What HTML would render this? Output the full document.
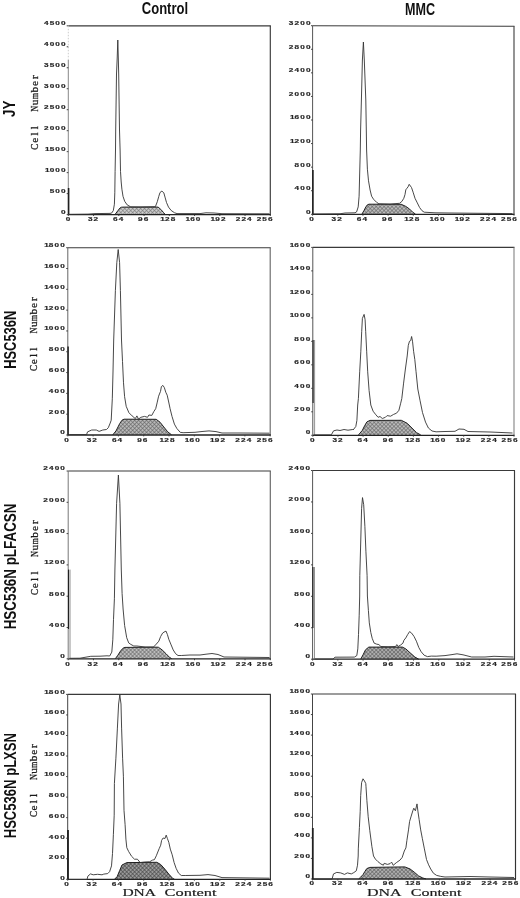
<!DOCTYPE html><html><head><meta charset="utf-8"><title>Cell cycle histograms</title>
<style>html,body{margin:0;padding:0;background:#fff;}svg{display:block;will-change:transform;}.n{font-family:"Liberation Sans",sans-serif;font-weight:bold;font-size:5.65px;fill:#262626;stroke:#262626;stroke-width:0.18px;}.t{font-family:"Liberation Sans",sans-serif;font-weight:bold;fill:#111;}.s{font-family:"Liberation Serif",serif;fill:#1a1a1a;stroke:#1a1a1a;stroke-width:0.15px;}.cs{font-family:"Liberation Serif",serif;fill:#1a1a1a;stroke:#1a1a1a;stroke-width:0.3px;}.m{font-family:"Liberation Mono",monospace;fill:#1a1a1a;stroke:#1a1a1a;stroke-width:0.25px;}</style></head><body>
<svg width="520" height="898" viewBox="0 0 520 898">
<defs><pattern id="hA" patternUnits="userSpaceOnUse" width="2.8" height="2.8" patternTransform="rotate(45)"><rect width="2.8" height="2.8" fill="#cecece"/><path d="M0,0.35 H2.8 M0.35,0 V2.8" stroke="#797979" stroke-width="0.7"/></pattern><pattern id="hB" patternUnits="userSpaceOnUse" width="2.8" height="2.8" patternTransform="rotate(45)"><rect width="2.8" height="2.8" fill="#bababa"/><path d="M0,0.35 H2.8 M0.35,0 V2.8" stroke="#656565" stroke-width="0.7"/></pattern><pattern id="hC" patternUnits="userSpaceOnUse" width="2.8" height="2.8" patternTransform="rotate(45)"><rect width="2.8" height="2.8" fill="#bababa"/><path d="M0,0.35 H2.8 M0.35,0 V2.8" stroke="#656565" stroke-width="0.7"/></pattern><pattern id="hD" patternUnits="userSpaceOnUse" width="2.8" height="2.8" patternTransform="rotate(45)"><rect width="2.8" height="2.8" fill="#bababa"/><path d="M0,0.35 H2.8 M0.35,0 V2.8" stroke="#656565" stroke-width="0.7"/></pattern><pattern id="hE" patternUnits="userSpaceOnUse" width="2.8" height="2.8" patternTransform="rotate(45)"><rect width="2.8" height="2.8" fill="#bcbcbc"/><path d="M0,0.35 H2.8 M0.35,0 V2.8" stroke="#676767" stroke-width="0.7"/></pattern><pattern id="hF" patternUnits="userSpaceOnUse" width="2.8" height="2.8" patternTransform="rotate(45)"><rect width="2.8" height="2.8" fill="#b2b2b2"/><path d="M0,0.35 H2.8 M0.35,0 V2.8" stroke="#5d5d5d" stroke-width="0.7"/></pattern><pattern id="hG" patternUnits="userSpaceOnUse" width="2.8" height="2.8" patternTransform="rotate(45)"><rect width="2.8" height="2.8" fill="#9a9a9a"/><path d="M0,0.35 H2.8 M0.35,0 V2.8" stroke="#454545" stroke-width="0.7"/></pattern><pattern id="hH" patternUnits="userSpaceOnUse" width="2.8" height="2.8" patternTransform="rotate(45)"><rect width="2.8" height="2.8" fill="#b2b2b2"/><path d="M0,0.35 H2.8 M0.35,0 V2.8" stroke="#5d5d5d" stroke-width="0.7"/></pattern></defs>
<text class="t" x="141.8" y="14.2" font-size="15.6" textLength="46.3" lengthAdjust="spacingAndGlyphs">Control</text>
<text class="t" x="405.0" y="14.8" font-size="16.3" textLength="30.0" lengthAdjust="spacingAndGlyphs">MMC</text>
<text class="t" transform="translate(14.90,117.00) rotate(-90)" x="0" y="0" font-size="16.5" textLength="16.30" lengthAdjust="spacingAndGlyphs">JY</text>
<text class="t" transform="translate(16.00,368.80) rotate(-90)" x="0" y="0" font-size="16.5" textLength="58.10" lengthAdjust="spacingAndGlyphs">HSC536N</text>
<text class="t" transform="translate(15.60,629.30) rotate(-90)" x="0" y="0" font-size="15.6" textLength="125.70" lengthAdjust="spacingAndGlyphs">HSC536N pLFACSN</text>
<text class="t" transform="translate(15.60,838.30) rotate(-90)" x="0" y="0" font-size="15.6" textLength="105.30" lengthAdjust="spacingAndGlyphs">HSC536N pLXSN</text>
<g class="cs" transform="translate(38.00,149.80) rotate(-90)" font-size="11.3"><text transform="translate(3.16,0) scale(0.796,1)" text-anchor="middle">C</text><text transform="translate(9.47,0) scale(1.000,1)" text-anchor="middle">e</text><text transform="translate(15.79,0) scale(1.000,1)" text-anchor="middle">l</text><text transform="translate(22.11,0) scale(1.000,1)" text-anchor="middle">l</text><text transform="translate(41.06,0) scale(0.735,1)" text-anchor="middle">N</text><text transform="translate(47.38,0) scale(1.000,1)" text-anchor="middle">u</text><text transform="translate(53.69,0) scale(0.682,1)" text-anchor="middle">m</text><text transform="translate(60.01,0) scale(1.000,1)" text-anchor="middle">b</text><text transform="translate(66.33,0) scale(1.000,1)" text-anchor="middle">e</text><text transform="translate(72.64,0) scale(1.000,1)" text-anchor="middle">r</text></g>
<g class="cs" transform="translate(37.00,371.20) rotate(-90)" font-size="11.3"><text transform="translate(3.13,0) scale(0.796,1)" text-anchor="middle">C</text><text transform="translate(9.40,0) scale(1.000,1)" text-anchor="middle">e</text><text transform="translate(15.67,0) scale(1.000,1)" text-anchor="middle">l</text><text transform="translate(21.93,0) scale(1.000,1)" text-anchor="middle">l</text><text transform="translate(40.73,0) scale(0.735,1)" text-anchor="middle">N</text><text transform="translate(47.00,0) scale(1.000,1)" text-anchor="middle">u</text><text transform="translate(53.27,0) scale(0.682,1)" text-anchor="middle">m</text><text transform="translate(59.53,0) scale(1.000,1)" text-anchor="middle">b</text><text transform="translate(65.80,0) scale(1.000,1)" text-anchor="middle">e</text><text transform="translate(72.07,0) scale(1.000,1)" text-anchor="middle">r</text></g>
<g class="cs" transform="translate(37.50,595.20) rotate(-90)" font-size="11.3"><text transform="translate(3.18,0) scale(0.796,1)" text-anchor="middle">C</text><text transform="translate(9.53,0) scale(1.000,1)" text-anchor="middle">e</text><text transform="translate(15.88,0) scale(1.000,1)" text-anchor="middle">l</text><text transform="translate(22.23,0) scale(1.000,1)" text-anchor="middle">l</text><text transform="translate(41.28,0) scale(0.735,1)" text-anchor="middle">N</text><text transform="translate(47.63,0) scale(1.000,1)" text-anchor="middle">u</text><text transform="translate(53.98,0) scale(0.682,1)" text-anchor="middle">m</text><text transform="translate(60.33,0) scale(1.000,1)" text-anchor="middle">b</text><text transform="translate(66.68,0) scale(1.000,1)" text-anchor="middle">e</text><text transform="translate(73.03,0) scale(1.000,1)" text-anchor="middle">r</text></g>
<g class="cs" transform="translate(37.00,817.20) rotate(-90)" font-size="11.3"><text transform="translate(3.09,0) scale(0.796,1)" text-anchor="middle">C</text><text transform="translate(9.28,0) scale(1.000,1)" text-anchor="middle">e</text><text transform="translate(15.46,0) scale(1.000,1)" text-anchor="middle">l</text><text transform="translate(21.64,0) scale(1.000,1)" text-anchor="middle">l</text><text transform="translate(40.19,0) scale(0.735,1)" text-anchor="middle">N</text><text transform="translate(46.38,0) scale(1.000,1)" text-anchor="middle">u</text><text transform="translate(52.56,0) scale(0.682,1)" text-anchor="middle">m</text><text transform="translate(58.74,0) scale(1.000,1)" text-anchor="middle">b</text><text transform="translate(64.92,0) scale(1.000,1)" text-anchor="middle">e</text><text transform="translate(71.11,0) scale(1.000,1)" text-anchor="middle">r</text></g>
<text class="s" x="122.40" y="895.6" font-size="9.5" textLength="33.60" lengthAdjust="spacingAndGlyphs">DNA</text>
<text class="s" x="164.60" y="895.6" font-size="9.5" textLength="51.90" lengthAdjust="spacingAndGlyphs">Content</text>
<text class="s" x="367.00" y="895.6" font-size="9.5" textLength="34.60" lengthAdjust="spacingAndGlyphs">DNA</text>
<text class="s" x="410.70" y="895.6" font-size="9.5" textLength="50.80" lengthAdjust="spacingAndGlyphs">Content</text>
<polygon points="115.20,214.30 118.00,210.50 120.00,208.00 121.50,207.20 124.00,207.10 158.10,207.10 160.80,209.40 163.50,212.50 165.00,214.30" fill="url(#hA)" stroke="none"/>
<polyline points="115.20,214.30 118.00,210.50 120.00,208.00 121.50,207.20 124.00,207.10 158.10,207.10 160.80,209.40 163.50,212.50 165.00,214.30" fill="none" stroke="#1e1e1e" stroke-width="1.0" stroke-linejoin="round"/>
<line x1="68.30" y1="25.80" x2="270.80" y2="25.80" stroke="#3a3a3a" stroke-width="1.15"/>
<line x1="270.30" y1="25.80" x2="270.30" y2="214.60" stroke="#3a3a3a" stroke-width="1.15"/>
<line x1="68.30" y1="214.60" x2="270.80" y2="214.60" stroke="#222" stroke-width="1.3"/>
<line x1="68.30" y1="25.80" x2="68.30" y2="60.00" stroke="#ccc" stroke-width="1" stroke-dasharray="1.5,1.5"/>
<line x1="68.30" y1="60.00" x2="68.30" y2="214.60" stroke="#888" stroke-width="1.0"/>
<line x1="68.60" y1="188.00" x2="68.60" y2="214.60" stroke="#202020" stroke-width="1.6"/>
<line x1="66.70" y1="214.60" x2="68.30" y2="214.60" stroke="#333" stroke-width="0.9"/>
<line x1="66.70" y1="193.62" x2="68.30" y2="193.62" stroke="#333" stroke-width="0.9"/>
<line x1="66.70" y1="172.64" x2="68.30" y2="172.64" stroke="#333" stroke-width="0.9"/>
<line x1="66.70" y1="151.67" x2="68.30" y2="151.67" stroke="#333" stroke-width="0.9"/>
<line x1="66.70" y1="130.69" x2="68.30" y2="130.69" stroke="#333" stroke-width="0.9"/>
<line x1="66.70" y1="109.71" x2="68.30" y2="109.71" stroke="#333" stroke-width="0.9"/>
<line x1="66.70" y1="88.73" x2="68.30" y2="88.73" stroke="#333" stroke-width="0.9"/>
<line x1="66.70" y1="67.76" x2="68.30" y2="67.76" stroke="#333" stroke-width="0.9"/>
<line x1="66.70" y1="46.78" x2="68.30" y2="46.78" stroke="#333" stroke-width="0.9"/>
<line x1="66.70" y1="25.80" x2="68.30" y2="25.80" stroke="#333" stroke-width="0.9"/>
<line x1="68.30" y1="214.60" x2="68.30" y2="216.00" stroke="#333" stroke-width="0.9"/>
<line x1="93.55" y1="214.60" x2="93.55" y2="216.00" stroke="#333" stroke-width="0.9"/>
<line x1="118.80" y1="214.60" x2="118.80" y2="216.00" stroke="#333" stroke-width="0.9"/>
<line x1="144.05" y1="214.60" x2="144.05" y2="216.00" stroke="#333" stroke-width="0.9"/>
<line x1="169.30" y1="214.60" x2="169.30" y2="216.00" stroke="#333" stroke-width="0.9"/>
<line x1="194.55" y1="214.60" x2="194.55" y2="216.00" stroke="#333" stroke-width="0.9"/>
<line x1="219.80" y1="214.60" x2="219.80" y2="216.00" stroke="#333" stroke-width="0.9"/>
<line x1="245.05" y1="214.60" x2="245.05" y2="216.00" stroke="#333" stroke-width="0.9"/>
<line x1="270.30" y1="214.60" x2="270.30" y2="216.00" stroke="#333" stroke-width="0.9"/>
<polyline points="69.00,214.30 88.00,214.10 95.00,213.60 110.00,213.40 111.60,213.10 113.30,210.60 114.40,204.20 114.80,192.80 115.10,171.40 115.50,150.00 115.70,130.00 116.50,74.00 117.20,58.00 117.80,40.00 118.30,58.00 118.70,74.00 119.50,130.00 120.10,150.00 120.50,171.40 121.20,182.00 121.90,189.20 123.00,196.30 124.70,201.30 127.20,204.90 130.80,206.90 140.00,207.00 155.40,206.70 157.30,201.70 158.80,196.30 160.00,192.50 161.90,191.10 163.80,192.80 165.00,197.10 166.50,202.50 168.50,207.10 171.20,210.50 174.60,212.80 177.00,213.60 200.00,213.60 206.00,212.80 214.00,213.00 222.00,213.70 269.50,213.80" fill="none" stroke="#333" stroke-width="0.9" stroke-linejoin="round"/>
<text transform="translate(46.20,24.75) scale(1.45,1)" text-anchor="middle" class="n">4</text><text transform="translate(51.90,24.75) scale(1.45,1)" text-anchor="middle" class="n">5</text><text transform="translate(57.60,24.75) scale(1.45,1)" text-anchor="middle" class="n">0</text><text transform="translate(63.30,24.75) scale(1.45,1)" text-anchor="middle" class="n">0</text>
<text transform="translate(46.20,45.81) scale(1.45,1)" text-anchor="middle" class="n">4</text><text transform="translate(51.90,45.81) scale(1.45,1)" text-anchor="middle" class="n">0</text><text transform="translate(57.60,45.81) scale(1.45,1)" text-anchor="middle" class="n">0</text><text transform="translate(63.30,45.81) scale(1.45,1)" text-anchor="middle" class="n">0</text>
<text transform="translate(46.20,66.87) scale(1.45,1)" text-anchor="middle" class="n">3</text><text transform="translate(51.90,66.87) scale(1.45,1)" text-anchor="middle" class="n">5</text><text transform="translate(57.60,66.87) scale(1.45,1)" text-anchor="middle" class="n">0</text><text transform="translate(63.30,66.87) scale(1.45,1)" text-anchor="middle" class="n">0</text>
<text transform="translate(46.20,87.93) scale(1.45,1)" text-anchor="middle" class="n">3</text><text transform="translate(51.90,87.93) scale(1.45,1)" text-anchor="middle" class="n">0</text><text transform="translate(57.60,87.93) scale(1.45,1)" text-anchor="middle" class="n">0</text><text transform="translate(63.30,87.93) scale(1.45,1)" text-anchor="middle" class="n">0</text>
<text transform="translate(46.20,108.99) scale(1.45,1)" text-anchor="middle" class="n">2</text><text transform="translate(51.90,108.99) scale(1.45,1)" text-anchor="middle" class="n">5</text><text transform="translate(57.60,108.99) scale(1.45,1)" text-anchor="middle" class="n">0</text><text transform="translate(63.30,108.99) scale(1.45,1)" text-anchor="middle" class="n">0</text>
<text transform="translate(46.20,130.05) scale(1.45,1)" text-anchor="middle" class="n">2</text><text transform="translate(51.90,130.05) scale(1.45,1)" text-anchor="middle" class="n">0</text><text transform="translate(57.60,130.05) scale(1.45,1)" text-anchor="middle" class="n">0</text><text transform="translate(63.30,130.05) scale(1.45,1)" text-anchor="middle" class="n">0</text>
<text transform="translate(47.25,151.11) scale(1.45,1)" text-anchor="middle" class="n">1</text><text transform="translate(51.90,151.11) scale(1.45,1)" text-anchor="middle" class="n">5</text><text transform="translate(57.60,151.11) scale(1.45,1)" text-anchor="middle" class="n">0</text><text transform="translate(63.30,151.11) scale(1.45,1)" text-anchor="middle" class="n">0</text>
<text transform="translate(47.25,172.17) scale(1.45,1)" text-anchor="middle" class="n">1</text><text transform="translate(51.90,172.17) scale(1.45,1)" text-anchor="middle" class="n">0</text><text transform="translate(57.60,172.17) scale(1.45,1)" text-anchor="middle" class="n">0</text><text transform="translate(63.30,172.17) scale(1.45,1)" text-anchor="middle" class="n">0</text>
<text transform="translate(51.90,193.23) scale(1.45,1)" text-anchor="middle" class="n">5</text><text transform="translate(57.60,193.23) scale(1.45,1)" text-anchor="middle" class="n">0</text><text transform="translate(63.30,193.23) scale(1.45,1)" text-anchor="middle" class="n">0</text>
<text transform="translate(63.30,214.29) scale(1.45,1)" text-anchor="middle" class="n">0</text>
<text transform="translate(67.90,221.00) scale(1.45,1)" text-anchor="middle" class="n">0</text>
<text transform="translate(90.16,221.00) scale(1.45,1)" text-anchor="middle" class="n">3</text><text transform="translate(95.86,221.00) scale(1.45,1)" text-anchor="middle" class="n">2</text>
<text transform="translate(115.27,221.00) scale(1.45,1)" text-anchor="middle" class="n">6</text><text transform="translate(120.97,221.00) scale(1.45,1)" text-anchor="middle" class="n">4</text>
<text transform="translate(140.38,221.00) scale(1.45,1)" text-anchor="middle" class="n">9</text><text transform="translate(146.08,221.00) scale(1.45,1)" text-anchor="middle" class="n">6</text>
<text transform="translate(162.64,221.00) scale(1.45,1)" text-anchor="middle" class="n">1</text><text transform="translate(167.29,221.00) scale(1.45,1)" text-anchor="middle" class="n">2</text><text transform="translate(172.99,221.00) scale(1.45,1)" text-anchor="middle" class="n">8</text>
<text transform="translate(187.75,221.00) scale(1.45,1)" text-anchor="middle" class="n">1</text><text transform="translate(192.40,221.00) scale(1.45,1)" text-anchor="middle" class="n">6</text><text transform="translate(198.10,221.00) scale(1.45,1)" text-anchor="middle" class="n">0</text>
<text transform="translate(212.86,221.00) scale(1.45,1)" text-anchor="middle" class="n">1</text><text transform="translate(217.51,221.00) scale(1.45,1)" text-anchor="middle" class="n">9</text><text transform="translate(223.21,221.00) scale(1.45,1)" text-anchor="middle" class="n">2</text>
<text transform="translate(237.97,221.00) scale(1.45,1)" text-anchor="middle" class="n">2</text><text transform="translate(243.67,221.00) scale(1.45,1)" text-anchor="middle" class="n">2</text><text transform="translate(249.37,221.00) scale(1.45,1)" text-anchor="middle" class="n">4</text>
<text transform="translate(258.90,221.00) scale(1.45,1)" text-anchor="middle" class="n">2</text><text transform="translate(264.60,221.00) scale(1.45,1)" text-anchor="middle" class="n">5</text><text transform="translate(270.30,221.00) scale(1.45,1)" text-anchor="middle" class="n">6</text>
<polygon points="362.00,214.00 364.00,210.50 365.80,207.00 367.40,204.80 369.00,204.20 401.20,204.30 405.80,206.40 409.60,209.10 412.70,212.20 415.40,214.00" fill="url(#hB)" stroke="none"/>
<polyline points="362.00,214.00 364.00,210.50 365.80,207.00 367.40,204.80 369.00,204.20 401.20,204.30 405.80,206.40 409.60,209.10 412.70,212.20 415.40,214.00" fill="none" stroke="#1e1e1e" stroke-width="1.0" stroke-linejoin="round"/>
<line x1="312.60" y1="25.70" x2="514.50" y2="26.30" stroke="#3a3a3a" stroke-width="1.15"/>
<line x1="514.00" y1="26.30" x2="514.00" y2="214.30" stroke="#444" stroke-width="1.15"/>
<line x1="312.60" y1="214.30" x2="514.50" y2="214.30" stroke="#222" stroke-width="1.3"/>
<line x1="312.60" y1="25.70" x2="312.60" y2="214.30" stroke="#555" stroke-width="1.0"/>
<line x1="312.90" y1="170.00" x2="312.90" y2="214.30" stroke="#202020" stroke-width="1.6"/>
<line x1="311.00" y1="214.30" x2="312.60" y2="214.30" stroke="#333" stroke-width="0.9"/>
<line x1="311.00" y1="190.73" x2="312.60" y2="190.73" stroke="#333" stroke-width="0.9"/>
<line x1="311.00" y1="167.15" x2="312.60" y2="167.15" stroke="#333" stroke-width="0.9"/>
<line x1="311.00" y1="143.57" x2="312.60" y2="143.57" stroke="#333" stroke-width="0.9"/>
<line x1="311.00" y1="120.00" x2="312.60" y2="120.00" stroke="#333" stroke-width="0.9"/>
<line x1="311.00" y1="96.42" x2="312.60" y2="96.42" stroke="#333" stroke-width="0.9"/>
<line x1="311.00" y1="72.85" x2="312.60" y2="72.85" stroke="#333" stroke-width="0.9"/>
<line x1="311.00" y1="49.27" x2="312.60" y2="49.27" stroke="#333" stroke-width="0.9"/>
<line x1="311.00" y1="25.70" x2="312.60" y2="25.70" stroke="#333" stroke-width="0.9"/>
<line x1="312.60" y1="214.30" x2="312.60" y2="215.70" stroke="#333" stroke-width="0.9"/>
<line x1="337.78" y1="214.30" x2="337.78" y2="215.70" stroke="#333" stroke-width="0.9"/>
<line x1="362.95" y1="214.30" x2="362.95" y2="215.70" stroke="#333" stroke-width="0.9"/>
<line x1="388.12" y1="214.30" x2="388.12" y2="215.70" stroke="#333" stroke-width="0.9"/>
<line x1="413.30" y1="214.30" x2="413.30" y2="215.70" stroke="#333" stroke-width="0.9"/>
<line x1="438.48" y1="214.30" x2="438.48" y2="215.70" stroke="#333" stroke-width="0.9"/>
<line x1="463.65" y1="214.30" x2="463.65" y2="215.70" stroke="#333" stroke-width="0.9"/>
<line x1="488.82" y1="214.30" x2="488.82" y2="215.70" stroke="#333" stroke-width="0.9"/>
<line x1="514.00" y1="214.30" x2="514.00" y2="215.70" stroke="#333" stroke-width="0.9"/>
<polyline points="313.50,214.00 340.00,213.80 345.00,213.00 355.00,212.80 356.60,211.90 358.20,206.90 359.10,196.20 359.70,173.00 360.30,150.00 360.60,130.00 361.40,100.00 362.40,60.00 363.40,42.00 364.30,60.00 365.80,100.00 366.30,130.00 366.60,150.00 367.40,169.20 368.50,180.80 370.10,190.00 371.60,196.20 373.50,199.20 376.60,202.30 378.90,203.80 390.00,204.10 399.60,203.30 401.90,201.40 403.80,198.30 405.00,194.50 405.80,189.80 406.90,188.30 408.10,186.80 409.20,184.30 410.40,186.00 411.50,187.50 413.10,192.20 415.00,198.30 417.30,202.90 419.60,207.50 421.90,210.60 424.20,212.20 435.00,212.80 450.00,213.00 480.00,213.30 512.50,213.60" fill="none" stroke="#333" stroke-width="0.9" stroke-linejoin="round"/>
<text transform="translate(291.10,24.95) scale(1.45,1)" text-anchor="middle" class="n">3</text><text transform="translate(296.80,24.95) scale(1.45,1)" text-anchor="middle" class="n">2</text><text transform="translate(302.50,24.95) scale(1.45,1)" text-anchor="middle" class="n">0</text><text transform="translate(308.20,24.95) scale(1.45,1)" text-anchor="middle" class="n">0</text>
<text transform="translate(291.10,48.55) scale(1.45,1)" text-anchor="middle" class="n">2</text><text transform="translate(296.80,48.55) scale(1.45,1)" text-anchor="middle" class="n">8</text><text transform="translate(302.50,48.55) scale(1.45,1)" text-anchor="middle" class="n">0</text><text transform="translate(308.20,48.55) scale(1.45,1)" text-anchor="middle" class="n">0</text>
<text transform="translate(291.10,72.15) scale(1.45,1)" text-anchor="middle" class="n">2</text><text transform="translate(296.80,72.15) scale(1.45,1)" text-anchor="middle" class="n">4</text><text transform="translate(302.50,72.15) scale(1.45,1)" text-anchor="middle" class="n">0</text><text transform="translate(308.20,72.15) scale(1.45,1)" text-anchor="middle" class="n">0</text>
<text transform="translate(291.10,95.75) scale(1.45,1)" text-anchor="middle" class="n">2</text><text transform="translate(296.80,95.75) scale(1.45,1)" text-anchor="middle" class="n">0</text><text transform="translate(302.50,95.75) scale(1.45,1)" text-anchor="middle" class="n">0</text><text transform="translate(308.20,95.75) scale(1.45,1)" text-anchor="middle" class="n">0</text>
<text transform="translate(292.15,119.35) scale(1.45,1)" text-anchor="middle" class="n">1</text><text transform="translate(296.80,119.35) scale(1.45,1)" text-anchor="middle" class="n">6</text><text transform="translate(302.50,119.35) scale(1.45,1)" text-anchor="middle" class="n">0</text><text transform="translate(308.20,119.35) scale(1.45,1)" text-anchor="middle" class="n">0</text>
<text transform="translate(292.15,142.95) scale(1.45,1)" text-anchor="middle" class="n">1</text><text transform="translate(296.80,142.95) scale(1.45,1)" text-anchor="middle" class="n">2</text><text transform="translate(302.50,142.95) scale(1.45,1)" text-anchor="middle" class="n">0</text><text transform="translate(308.20,142.95) scale(1.45,1)" text-anchor="middle" class="n">0</text>
<text transform="translate(296.80,166.55) scale(1.45,1)" text-anchor="middle" class="n">8</text><text transform="translate(302.50,166.55) scale(1.45,1)" text-anchor="middle" class="n">0</text><text transform="translate(308.20,166.55) scale(1.45,1)" text-anchor="middle" class="n">0</text>
<text transform="translate(296.80,190.15) scale(1.45,1)" text-anchor="middle" class="n">4</text><text transform="translate(302.50,190.15) scale(1.45,1)" text-anchor="middle" class="n">0</text><text transform="translate(308.20,190.15) scale(1.45,1)" text-anchor="middle" class="n">0</text>
<text transform="translate(308.20,213.75) scale(1.45,1)" text-anchor="middle" class="n">0</text>
<text transform="translate(311.50,220.60) scale(1.45,1)" text-anchor="middle" class="n">0</text>
<text transform="translate(333.86,220.60) scale(1.45,1)" text-anchor="middle" class="n">3</text><text transform="translate(339.56,220.60) scale(1.45,1)" text-anchor="middle" class="n">2</text>
<text transform="translate(359.07,220.60) scale(1.45,1)" text-anchor="middle" class="n">6</text><text transform="translate(364.77,220.60) scale(1.45,1)" text-anchor="middle" class="n">4</text>
<text transform="translate(384.28,220.60) scale(1.45,1)" text-anchor="middle" class="n">9</text><text transform="translate(389.98,220.60) scale(1.45,1)" text-anchor="middle" class="n">6</text>
<text transform="translate(406.64,220.60) scale(1.45,1)" text-anchor="middle" class="n">1</text><text transform="translate(411.29,220.60) scale(1.45,1)" text-anchor="middle" class="n">2</text><text transform="translate(416.99,220.60) scale(1.45,1)" text-anchor="middle" class="n">8</text>
<text transform="translate(431.85,220.60) scale(1.45,1)" text-anchor="middle" class="n">1</text><text transform="translate(436.50,220.60) scale(1.45,1)" text-anchor="middle" class="n">6</text><text transform="translate(442.20,220.60) scale(1.45,1)" text-anchor="middle" class="n">0</text>
<text transform="translate(457.06,220.60) scale(1.45,1)" text-anchor="middle" class="n">1</text><text transform="translate(461.71,220.60) scale(1.45,1)" text-anchor="middle" class="n">9</text><text transform="translate(467.41,220.60) scale(1.45,1)" text-anchor="middle" class="n">2</text>
<text transform="translate(482.27,220.60) scale(1.45,1)" text-anchor="middle" class="n">2</text><text transform="translate(487.97,220.60) scale(1.45,1)" text-anchor="middle" class="n">2</text><text transform="translate(493.67,220.60) scale(1.45,1)" text-anchor="middle" class="n">4</text>
<text transform="translate(503.20,220.60) scale(1.45,1)" text-anchor="middle" class="n">2</text><text transform="translate(508.90,220.60) scale(1.45,1)" text-anchor="middle" class="n">5</text><text transform="translate(514.60,220.60) scale(1.45,1)" text-anchor="middle" class="n">6</text>
<polygon points="112.80,434.80 116.00,430.90 119.80,423.40 122.00,420.20 124.00,419.20 156.20,419.30 160.00,422.20 163.80,427.00 167.70,431.80 171.50,434.80" fill="url(#hC)" stroke="none"/>
<polyline points="112.80,434.80 116.00,430.90 119.80,423.40 122.00,420.20 124.00,419.20 156.20,419.30 160.00,422.20 163.80,427.00 167.70,431.80 171.50,434.80" fill="none" stroke="#1e1e1e" stroke-width="1.0" stroke-linejoin="round"/>
<line x1="67.80" y1="247.70" x2="270.70" y2="247.70" stroke="#3a3a3a" stroke-width="1.15"/>
<line x1="270.20" y1="247.70" x2="270.20" y2="435.00" stroke="#6a6a6a" stroke-width="1.15"/>
<line x1="67.80" y1="435.00" x2="270.70" y2="435.00" stroke="#222" stroke-width="1.3"/>
<line x1="67.80" y1="247.70" x2="67.80" y2="435.00" stroke="#666" stroke-width="1.0"/>
<line x1="68.10" y1="346.50" x2="68.10" y2="435.00" stroke="#202020" stroke-width="1.5"/>
<line x1="66.20" y1="435.00" x2="67.80" y2="435.00" stroke="#333" stroke-width="0.9"/>
<line x1="66.20" y1="414.19" x2="67.80" y2="414.19" stroke="#333" stroke-width="0.9"/>
<line x1="66.20" y1="393.38" x2="67.80" y2="393.38" stroke="#333" stroke-width="0.9"/>
<line x1="66.20" y1="372.57" x2="67.80" y2="372.57" stroke="#333" stroke-width="0.9"/>
<line x1="66.20" y1="351.76" x2="67.80" y2="351.76" stroke="#333" stroke-width="0.9"/>
<line x1="66.20" y1="330.94" x2="67.80" y2="330.94" stroke="#333" stroke-width="0.9"/>
<line x1="66.20" y1="310.13" x2="67.80" y2="310.13" stroke="#333" stroke-width="0.9"/>
<line x1="66.20" y1="289.32" x2="67.80" y2="289.32" stroke="#333" stroke-width="0.9"/>
<line x1="66.20" y1="268.51" x2="67.80" y2="268.51" stroke="#333" stroke-width="0.9"/>
<line x1="66.20" y1="247.70" x2="67.80" y2="247.70" stroke="#333" stroke-width="0.9"/>
<line x1="67.80" y1="435.00" x2="67.80" y2="436.40" stroke="#333" stroke-width="0.9"/>
<line x1="93.10" y1="435.00" x2="93.10" y2="436.40" stroke="#333" stroke-width="0.9"/>
<line x1="118.40" y1="435.00" x2="118.40" y2="436.40" stroke="#333" stroke-width="0.9"/>
<line x1="143.70" y1="435.00" x2="143.70" y2="436.40" stroke="#333" stroke-width="0.9"/>
<line x1="169.00" y1="435.00" x2="169.00" y2="436.40" stroke="#333" stroke-width="0.9"/>
<line x1="194.30" y1="435.00" x2="194.30" y2="436.40" stroke="#333" stroke-width="0.9"/>
<line x1="219.60" y1="435.00" x2="219.60" y2="436.40" stroke="#333" stroke-width="0.9"/>
<line x1="244.90" y1="435.00" x2="244.90" y2="436.40" stroke="#333" stroke-width="0.9"/>
<line x1="270.20" y1="435.00" x2="270.20" y2="436.40" stroke="#333" stroke-width="0.9"/>
<polyline points="69.50,434.60 86.60,434.60 87.50,431.90 91.70,430.00 96.30,430.00 99.10,431.40 102.80,430.00 106.50,429.50 108.30,427.70 110.20,423.10 111.20,420.20 112.30,398.80 113.00,372.00 113.70,340.00 115.40,290.40 116.80,262.70 118.20,249.50 119.60,262.70 120.40,290.40 121.50,340.00 122.50,361.40 123.50,382.80 124.60,396.70 126.20,406.30 128.90,412.70 132.10,415.90 135.30,418.60 136.90,415.90 138.50,419.10 140.80,417.30 144.60,416.40 147.50,417.30 148.90,415.00 151.80,415.40 153.80,411.60 155.70,408.70 157.10,402.90 158.60,396.20 160.50,391.40 161.40,386.60 162.90,385.40 164.30,387.50 165.80,392.30 167.20,395.20 168.70,402.00 170.10,408.70 172.00,416.40 174.40,424.10 176.80,428.40 180.20,432.30 183.10,432.70 195.00,432.30 202.00,431.50 209.00,430.90 216.00,431.60 222.00,433.00 240.00,433.00 269.50,433.20" fill="none" stroke="#333" stroke-width="0.9" stroke-linejoin="round"/>
<text transform="translate(46.45,247.25) scale(1.45,1)" text-anchor="middle" class="n">1</text><text transform="translate(51.10,247.25) scale(1.45,1)" text-anchor="middle" class="n">8</text><text transform="translate(56.80,247.25) scale(1.45,1)" text-anchor="middle" class="n">0</text><text transform="translate(62.50,247.25) scale(1.45,1)" text-anchor="middle" class="n">0</text>
<text transform="translate(46.45,268.05) scale(1.45,1)" text-anchor="middle" class="n">1</text><text transform="translate(51.10,268.05) scale(1.45,1)" text-anchor="middle" class="n">6</text><text transform="translate(56.80,268.05) scale(1.45,1)" text-anchor="middle" class="n">0</text><text transform="translate(62.50,268.05) scale(1.45,1)" text-anchor="middle" class="n">0</text>
<text transform="translate(46.45,288.85) scale(1.45,1)" text-anchor="middle" class="n">1</text><text transform="translate(51.10,288.85) scale(1.45,1)" text-anchor="middle" class="n">4</text><text transform="translate(56.80,288.85) scale(1.45,1)" text-anchor="middle" class="n">0</text><text transform="translate(62.50,288.85) scale(1.45,1)" text-anchor="middle" class="n">0</text>
<text transform="translate(46.45,309.65) scale(1.45,1)" text-anchor="middle" class="n">1</text><text transform="translate(51.10,309.65) scale(1.45,1)" text-anchor="middle" class="n">2</text><text transform="translate(56.80,309.65) scale(1.45,1)" text-anchor="middle" class="n">0</text><text transform="translate(62.50,309.65) scale(1.45,1)" text-anchor="middle" class="n">0</text>
<text transform="translate(46.45,330.45) scale(1.45,1)" text-anchor="middle" class="n">1</text><text transform="translate(51.10,330.45) scale(1.45,1)" text-anchor="middle" class="n">0</text><text transform="translate(56.80,330.45) scale(1.45,1)" text-anchor="middle" class="n">0</text><text transform="translate(62.50,330.45) scale(1.45,1)" text-anchor="middle" class="n">0</text>
<text transform="translate(51.10,351.25) scale(1.45,1)" text-anchor="middle" class="n">8</text><text transform="translate(56.80,351.25) scale(1.45,1)" text-anchor="middle" class="n">0</text><text transform="translate(62.50,351.25) scale(1.45,1)" text-anchor="middle" class="n">0</text>
<text transform="translate(51.10,372.05) scale(1.45,1)" text-anchor="middle" class="n">6</text><text transform="translate(56.80,372.05) scale(1.45,1)" text-anchor="middle" class="n">0</text><text transform="translate(62.50,372.05) scale(1.45,1)" text-anchor="middle" class="n">0</text>
<text transform="translate(51.10,392.85) scale(1.45,1)" text-anchor="middle" class="n">4</text><text transform="translate(56.80,392.85) scale(1.45,1)" text-anchor="middle" class="n">0</text><text transform="translate(62.50,392.85) scale(1.45,1)" text-anchor="middle" class="n">0</text>
<text transform="translate(51.10,413.65) scale(1.45,1)" text-anchor="middle" class="n">2</text><text transform="translate(56.80,413.65) scale(1.45,1)" text-anchor="middle" class="n">0</text><text transform="translate(62.50,413.65) scale(1.45,1)" text-anchor="middle" class="n">0</text>
<text transform="translate(62.50,434.45) scale(1.45,1)" text-anchor="middle" class="n">0</text>
<text transform="translate(66.50,441.60) scale(1.45,1)" text-anchor="middle" class="n">0</text>
<text transform="translate(88.91,441.60) scale(1.45,1)" text-anchor="middle" class="n">3</text><text transform="translate(94.61,441.60) scale(1.45,1)" text-anchor="middle" class="n">2</text>
<text transform="translate(114.17,441.60) scale(1.45,1)" text-anchor="middle" class="n">6</text><text transform="translate(119.87,441.60) scale(1.45,1)" text-anchor="middle" class="n">4</text>
<text transform="translate(139.43,441.60) scale(1.45,1)" text-anchor="middle" class="n">9</text><text transform="translate(145.13,441.60) scale(1.45,1)" text-anchor="middle" class="n">6</text>
<text transform="translate(161.84,441.60) scale(1.45,1)" text-anchor="middle" class="n">1</text><text transform="translate(166.49,441.60) scale(1.45,1)" text-anchor="middle" class="n">2</text><text transform="translate(172.19,441.60) scale(1.45,1)" text-anchor="middle" class="n">8</text>
<text transform="translate(187.10,441.60) scale(1.45,1)" text-anchor="middle" class="n">1</text><text transform="translate(191.75,441.60) scale(1.45,1)" text-anchor="middle" class="n">6</text><text transform="translate(197.45,441.60) scale(1.45,1)" text-anchor="middle" class="n">0</text>
<text transform="translate(212.36,441.60) scale(1.45,1)" text-anchor="middle" class="n">1</text><text transform="translate(217.01,441.60) scale(1.45,1)" text-anchor="middle" class="n">9</text><text transform="translate(222.71,441.60) scale(1.45,1)" text-anchor="middle" class="n">2</text>
<text transform="translate(237.62,441.60) scale(1.45,1)" text-anchor="middle" class="n">2</text><text transform="translate(243.32,441.60) scale(1.45,1)" text-anchor="middle" class="n">2</text><text transform="translate(249.02,441.60) scale(1.45,1)" text-anchor="middle" class="n">4</text>
<text transform="translate(258.90,441.60) scale(1.45,1)" text-anchor="middle" class="n">2</text><text transform="translate(264.60,441.60) scale(1.45,1)" text-anchor="middle" class="n">5</text><text transform="translate(270.30,441.60) scale(1.45,1)" text-anchor="middle" class="n">6</text>
<polygon points="358.50,434.90 362.30,430.40 364.60,425.80 366.90,421.90 370.00,420.40 401.30,420.30 407.20,423.30 411.90,428.00 416.60,432.70 420.70,434.90" fill="url(#hD)" stroke="none"/>
<polyline points="358.50,434.90 362.30,430.40 364.60,425.80 366.90,421.90 370.00,420.40 401.30,420.30 407.20,423.30 411.90,428.00 416.60,432.70 420.70,434.90" fill="none" stroke="#1e1e1e" stroke-width="1.0" stroke-linejoin="round"/>
<line x1="312.80" y1="247.40" x2="514.50" y2="247.40" stroke="#3a3a3a" stroke-width="1.15"/>
<line x1="514.00" y1="247.40" x2="514.00" y2="435.30" stroke="#888" stroke-width="1.15"/>
<line x1="312.80" y1="435.30" x2="514.50" y2="435.30" stroke="#222" stroke-width="1.3"/>
<line x1="312.80" y1="247.40" x2="312.80" y2="435.30" stroke="#555" stroke-width="1.0"/>
<line x1="314.60" y1="340.00" x2="314.60" y2="435.30" stroke="#777" stroke-width="0.8"/>
<line x1="313.10" y1="340.00" x2="313.10" y2="403.00" stroke="#202020" stroke-width="1.1"/>
<line x1="311.20" y1="435.30" x2="312.80" y2="435.30" stroke="#333" stroke-width="0.9"/>
<line x1="311.20" y1="411.81" x2="312.80" y2="411.81" stroke="#333" stroke-width="0.9"/>
<line x1="311.20" y1="388.32" x2="312.80" y2="388.32" stroke="#333" stroke-width="0.9"/>
<line x1="311.20" y1="364.84" x2="312.80" y2="364.84" stroke="#333" stroke-width="0.9"/>
<line x1="311.20" y1="341.35" x2="312.80" y2="341.35" stroke="#333" stroke-width="0.9"/>
<line x1="311.20" y1="317.86" x2="312.80" y2="317.86" stroke="#333" stroke-width="0.9"/>
<line x1="311.20" y1="294.38" x2="312.80" y2="294.38" stroke="#333" stroke-width="0.9"/>
<line x1="311.20" y1="270.89" x2="312.80" y2="270.89" stroke="#333" stroke-width="0.9"/>
<line x1="311.20" y1="247.40" x2="312.80" y2="247.40" stroke="#333" stroke-width="0.9"/>
<line x1="312.80" y1="435.30" x2="312.80" y2="436.70" stroke="#333" stroke-width="0.9"/>
<line x1="337.95" y1="435.30" x2="337.95" y2="436.70" stroke="#333" stroke-width="0.9"/>
<line x1="363.10" y1="435.30" x2="363.10" y2="436.70" stroke="#333" stroke-width="0.9"/>
<line x1="388.25" y1="435.30" x2="388.25" y2="436.70" stroke="#333" stroke-width="0.9"/>
<line x1="413.40" y1="435.30" x2="413.40" y2="436.70" stroke="#333" stroke-width="0.9"/>
<line x1="438.55" y1="435.30" x2="438.55" y2="436.70" stroke="#333" stroke-width="0.9"/>
<line x1="463.70" y1="435.30" x2="463.70" y2="436.70" stroke="#333" stroke-width="0.9"/>
<line x1="488.85" y1="435.30" x2="488.85" y2="436.70" stroke="#333" stroke-width="0.9"/>
<line x1="514.00" y1="435.30" x2="514.00" y2="436.70" stroke="#333" stroke-width="0.9"/>
<polyline points="313.50,434.80 331.30,434.80 333.60,430.80 337.00,430.00 340.00,430.50 344.00,429.50 348.00,430.20 352.70,429.50 353.10,430.00 355.80,426.50 356.90,420.40 357.70,405.00 358.40,398.60 359.70,371.80 360.80,351.80 361.70,331.70 362.40,318.40 364.10,314.40 365.10,319.70 365.70,331.70 366.70,351.80 367.70,371.80 369.10,390.60 370.80,405.00 373.10,411.20 375.40,414.20 378.10,417.30 380.00,416.50 382.30,418.50 385.40,417.30 387.10,415.60 390.60,416.20 393.60,414.40 396.50,413.20 398.90,410.30 400.70,403.20 401.80,398.50 403.60,383.10 405.40,369.00 407.20,356.00 408.30,345.30 409.50,341.20 410.70,340.60 411.60,336.50 412.50,341.20 413.60,351.30 414.80,359.50 416.00,371.30 417.80,389.00 420.10,400.80 422.50,412.60 425.50,422.10 428.40,428.00 432.00,431.00 436.10,431.80 445.00,431.50 455.00,431.30 459.00,429.00 464.00,429.30 468.00,431.50 490.00,432.00 512.50,433.00" fill="none" stroke="#333" stroke-width="0.9" stroke-linejoin="round"/>
<text transform="translate(291.95,247.05) scale(1.45,1)" text-anchor="middle" class="n">1</text><text transform="translate(296.60,247.05) scale(1.45,1)" text-anchor="middle" class="n">6</text><text transform="translate(302.30,247.05) scale(1.45,1)" text-anchor="middle" class="n">0</text><text transform="translate(308.00,247.05) scale(1.45,1)" text-anchor="middle" class="n">0</text>
<text transform="translate(291.95,270.48) scale(1.45,1)" text-anchor="middle" class="n">1</text><text transform="translate(296.60,270.48) scale(1.45,1)" text-anchor="middle" class="n">4</text><text transform="translate(302.30,270.48) scale(1.45,1)" text-anchor="middle" class="n">0</text><text transform="translate(308.00,270.48) scale(1.45,1)" text-anchor="middle" class="n">0</text>
<text transform="translate(291.95,293.91) scale(1.45,1)" text-anchor="middle" class="n">1</text><text transform="translate(296.60,293.91) scale(1.45,1)" text-anchor="middle" class="n">2</text><text transform="translate(302.30,293.91) scale(1.45,1)" text-anchor="middle" class="n">0</text><text transform="translate(308.00,293.91) scale(1.45,1)" text-anchor="middle" class="n">0</text>
<text transform="translate(291.95,317.34) scale(1.45,1)" text-anchor="middle" class="n">1</text><text transform="translate(296.60,317.34) scale(1.45,1)" text-anchor="middle" class="n">0</text><text transform="translate(302.30,317.34) scale(1.45,1)" text-anchor="middle" class="n">0</text><text transform="translate(308.00,317.34) scale(1.45,1)" text-anchor="middle" class="n">0</text>
<text transform="translate(296.60,340.77) scale(1.45,1)" text-anchor="middle" class="n">8</text><text transform="translate(302.30,340.77) scale(1.45,1)" text-anchor="middle" class="n">0</text><text transform="translate(308.00,340.77) scale(1.45,1)" text-anchor="middle" class="n">0</text>
<text transform="translate(296.60,364.20) scale(1.45,1)" text-anchor="middle" class="n">6</text><text transform="translate(302.30,364.20) scale(1.45,1)" text-anchor="middle" class="n">0</text><text transform="translate(308.00,364.20) scale(1.45,1)" text-anchor="middle" class="n">0</text>
<text transform="translate(296.60,387.63) scale(1.45,1)" text-anchor="middle" class="n">4</text><text transform="translate(302.30,387.63) scale(1.45,1)" text-anchor="middle" class="n">0</text><text transform="translate(308.00,387.63) scale(1.45,1)" text-anchor="middle" class="n">0</text>
<text transform="translate(296.60,411.06) scale(1.45,1)" text-anchor="middle" class="n">2</text><text transform="translate(302.30,411.06) scale(1.45,1)" text-anchor="middle" class="n">0</text><text transform="translate(308.00,411.06) scale(1.45,1)" text-anchor="middle" class="n">0</text>
<text transform="translate(308.00,434.49) scale(1.45,1)" text-anchor="middle" class="n">0</text>
<text transform="translate(312.30,441.70) scale(1.45,1)" text-anchor="middle" class="n">0</text>
<text transform="translate(334.65,441.70) scale(1.45,1)" text-anchor="middle" class="n">3</text><text transform="translate(340.35,441.70) scale(1.45,1)" text-anchor="middle" class="n">2</text>
<text transform="translate(359.85,441.70) scale(1.45,1)" text-anchor="middle" class="n">6</text><text transform="translate(365.55,441.70) scale(1.45,1)" text-anchor="middle" class="n">4</text>
<text transform="translate(385.05,441.70) scale(1.45,1)" text-anchor="middle" class="n">9</text><text transform="translate(390.75,441.70) scale(1.45,1)" text-anchor="middle" class="n">6</text>
<text transform="translate(407.40,441.70) scale(1.45,1)" text-anchor="middle" class="n">1</text><text transform="translate(412.05,441.70) scale(1.45,1)" text-anchor="middle" class="n">2</text><text transform="translate(417.75,441.70) scale(1.45,1)" text-anchor="middle" class="n">8</text>
<text transform="translate(432.60,441.70) scale(1.45,1)" text-anchor="middle" class="n">1</text><text transform="translate(437.25,441.70) scale(1.45,1)" text-anchor="middle" class="n">6</text><text transform="translate(442.95,441.70) scale(1.45,1)" text-anchor="middle" class="n">0</text>
<text transform="translate(457.80,441.70) scale(1.45,1)" text-anchor="middle" class="n">1</text><text transform="translate(462.45,441.70) scale(1.45,1)" text-anchor="middle" class="n">9</text><text transform="translate(468.15,441.70) scale(1.45,1)" text-anchor="middle" class="n">2</text>
<text transform="translate(483.00,441.70) scale(1.45,1)" text-anchor="middle" class="n">2</text><text transform="translate(488.70,441.70) scale(1.45,1)" text-anchor="middle" class="n">2</text><text transform="translate(494.40,441.70) scale(1.45,1)" text-anchor="middle" class="n">4</text>
<text transform="translate(503.80,441.70) scale(1.45,1)" text-anchor="middle" class="n">2</text><text transform="translate(509.50,441.70) scale(1.45,1)" text-anchor="middle" class="n">5</text><text transform="translate(515.20,441.70) scale(1.45,1)" text-anchor="middle" class="n">6</text>
<polygon points="115.40,658.60 117.90,655.20 120.50,651.10 123.00,648.20 125.00,647.40 158.30,647.20 162.10,649.90 166.00,653.70 169.80,657.60 171.70,658.60" fill="url(#hE)" stroke="none"/>
<polyline points="115.40,658.60 117.90,655.20 120.50,651.10 123.00,648.20 125.00,647.40 158.30,647.20 162.10,649.90 166.00,653.70 169.80,657.60 171.70,658.60" fill="none" stroke="#1e1e1e" stroke-width="1.0" stroke-linejoin="round"/>
<line x1="68.20" y1="471.00" x2="270.80" y2="471.00" stroke="#3a3a3a" stroke-width="1.15"/>
<line x1="270.30" y1="471.00" x2="270.30" y2="658.80" stroke="#666" stroke-width="1.15"/>
<line x1="68.20" y1="658.80" x2="270.80" y2="658.80" stroke="#222" stroke-width="1.3"/>
<line x1="68.20" y1="471.00" x2="68.20" y2="658.80" stroke="#777" stroke-width="1.0"/>
<line x1="70.00" y1="569.60" x2="70.00" y2="658.80" stroke="#777" stroke-width="0.8"/>
<line x1="68.50" y1="569.60" x2="68.50" y2="629.00" stroke="#202020" stroke-width="1.1"/>
<line x1="66.60" y1="658.80" x2="68.20" y2="658.80" stroke="#333" stroke-width="0.9"/>
<line x1="66.60" y1="627.50" x2="68.20" y2="627.50" stroke="#333" stroke-width="0.9"/>
<line x1="66.60" y1="596.20" x2="68.20" y2="596.20" stroke="#333" stroke-width="0.9"/>
<line x1="66.60" y1="564.90" x2="68.20" y2="564.90" stroke="#333" stroke-width="0.9"/>
<line x1="66.60" y1="533.60" x2="68.20" y2="533.60" stroke="#333" stroke-width="0.9"/>
<line x1="66.60" y1="502.30" x2="68.20" y2="502.30" stroke="#333" stroke-width="0.9"/>
<line x1="66.60" y1="471.00" x2="68.20" y2="471.00" stroke="#333" stroke-width="0.9"/>
<line x1="68.20" y1="658.80" x2="68.20" y2="660.20" stroke="#333" stroke-width="0.9"/>
<line x1="93.46" y1="658.80" x2="93.46" y2="660.20" stroke="#333" stroke-width="0.9"/>
<line x1="118.73" y1="658.80" x2="118.73" y2="660.20" stroke="#333" stroke-width="0.9"/>
<line x1="143.99" y1="658.80" x2="143.99" y2="660.20" stroke="#333" stroke-width="0.9"/>
<line x1="169.25" y1="658.80" x2="169.25" y2="660.20" stroke="#333" stroke-width="0.9"/>
<line x1="194.51" y1="658.80" x2="194.51" y2="660.20" stroke="#333" stroke-width="0.9"/>
<line x1="219.78" y1="658.80" x2="219.78" y2="660.20" stroke="#333" stroke-width="0.9"/>
<line x1="245.04" y1="658.80" x2="245.04" y2="660.20" stroke="#333" stroke-width="0.9"/>
<line x1="270.30" y1="658.80" x2="270.30" y2="660.20" stroke="#333" stroke-width="0.9"/>
<polyline points="69.50,658.30 80.00,658.20 90.80,656.30 100.00,656.20 107.00,655.80 109.70,656.00 111.80,652.10 112.80,639.80 113.50,619.30 114.40,598.80 114.90,570.00 116.60,503.30 118.40,475.00 119.90,503.30 121.30,570.00 122.10,593.60 123.10,609.00 124.60,625.40 126.70,637.70 128.70,642.90 130.80,644.40 133.80,646.00 136.90,646.00 145.00,647.00 153.50,647.00 156.30,644.10 158.80,641.20 160.70,636.40 162.60,633.10 164.00,632.10 166.00,631.10 167.40,634.50 168.80,639.30 170.80,644.10 173.20,649.90 175.60,653.70 178.00,655.50 181.30,655.50 190.00,655.00 200.00,655.00 206.00,654.20 212.00,653.50 218.00,654.50 224.00,657.00 269.50,657.50" fill="none" stroke="#333" stroke-width="0.9" stroke-linejoin="round"/>
<text transform="translate(45.50,470.35) scale(1.45,1)" text-anchor="middle" class="n">2</text><text transform="translate(51.20,470.35) scale(1.45,1)" text-anchor="middle" class="n">4</text><text transform="translate(56.90,470.35) scale(1.45,1)" text-anchor="middle" class="n">0</text><text transform="translate(62.60,470.35) scale(1.45,1)" text-anchor="middle" class="n">0</text>
<text transform="translate(45.50,501.68) scale(1.45,1)" text-anchor="middle" class="n">2</text><text transform="translate(51.20,501.68) scale(1.45,1)" text-anchor="middle" class="n">0</text><text transform="translate(56.90,501.68) scale(1.45,1)" text-anchor="middle" class="n">0</text><text transform="translate(62.60,501.68) scale(1.45,1)" text-anchor="middle" class="n">0</text>
<text transform="translate(46.55,533.01) scale(1.45,1)" text-anchor="middle" class="n">1</text><text transform="translate(51.20,533.01) scale(1.45,1)" text-anchor="middle" class="n">6</text><text transform="translate(56.90,533.01) scale(1.45,1)" text-anchor="middle" class="n">0</text><text transform="translate(62.60,533.01) scale(1.45,1)" text-anchor="middle" class="n">0</text>
<text transform="translate(46.55,564.34) scale(1.45,1)" text-anchor="middle" class="n">1</text><text transform="translate(51.20,564.34) scale(1.45,1)" text-anchor="middle" class="n">2</text><text transform="translate(56.90,564.34) scale(1.45,1)" text-anchor="middle" class="n">0</text><text transform="translate(62.60,564.34) scale(1.45,1)" text-anchor="middle" class="n">0</text>
<text transform="translate(51.20,595.67) scale(1.45,1)" text-anchor="middle" class="n">8</text><text transform="translate(56.90,595.67) scale(1.45,1)" text-anchor="middle" class="n">0</text><text transform="translate(62.60,595.67) scale(1.45,1)" text-anchor="middle" class="n">0</text>
<text transform="translate(51.20,627.00) scale(1.45,1)" text-anchor="middle" class="n">4</text><text transform="translate(56.90,627.00) scale(1.45,1)" text-anchor="middle" class="n">0</text><text transform="translate(62.60,627.00) scale(1.45,1)" text-anchor="middle" class="n">0</text>
<text transform="translate(62.60,658.33) scale(1.45,1)" text-anchor="middle" class="n">0</text>
<text transform="translate(67.40,665.50) scale(1.45,1)" text-anchor="middle" class="n">0</text>
<text transform="translate(89.74,665.50) scale(1.45,1)" text-anchor="middle" class="n">3</text><text transform="translate(95.44,665.50) scale(1.45,1)" text-anchor="middle" class="n">2</text>
<text transform="translate(114.93,665.50) scale(1.45,1)" text-anchor="middle" class="n">6</text><text transform="translate(120.63,665.50) scale(1.45,1)" text-anchor="middle" class="n">4</text>
<text transform="translate(140.12,665.50) scale(1.45,1)" text-anchor="middle" class="n">9</text><text transform="translate(145.82,665.50) scale(1.45,1)" text-anchor="middle" class="n">6</text>
<text transform="translate(162.46,665.50) scale(1.45,1)" text-anchor="middle" class="n">1</text><text transform="translate(167.11,665.50) scale(1.45,1)" text-anchor="middle" class="n">2</text><text transform="translate(172.81,665.50) scale(1.45,1)" text-anchor="middle" class="n">8</text>
<text transform="translate(187.65,665.50) scale(1.45,1)" text-anchor="middle" class="n">1</text><text transform="translate(192.30,665.50) scale(1.45,1)" text-anchor="middle" class="n">6</text><text transform="translate(198.00,665.50) scale(1.45,1)" text-anchor="middle" class="n">0</text>
<text transform="translate(212.84,665.50) scale(1.45,1)" text-anchor="middle" class="n">1</text><text transform="translate(217.49,665.50) scale(1.45,1)" text-anchor="middle" class="n">9</text><text transform="translate(223.19,665.50) scale(1.45,1)" text-anchor="middle" class="n">2</text>
<text transform="translate(238.03,665.50) scale(1.45,1)" text-anchor="middle" class="n">2</text><text transform="translate(243.73,665.50) scale(1.45,1)" text-anchor="middle" class="n">2</text><text transform="translate(249.43,665.50) scale(1.45,1)" text-anchor="middle" class="n">4</text>
<text transform="translate(258.90,665.50) scale(1.45,1)" text-anchor="middle" class="n">2</text><text transform="translate(264.60,665.50) scale(1.45,1)" text-anchor="middle" class="n">5</text><text transform="translate(270.30,665.50) scale(1.45,1)" text-anchor="middle" class="n">6</text>
<polygon points="360.70,659.20 363.10,654.70 365.50,649.80 368.80,647.10 402.40,647.10 405.80,648.90 410.10,652.80 414.90,657.10 418.80,659.20" fill="url(#hF)" stroke="none"/>
<polyline points="360.70,659.20 363.10,654.70 365.50,649.80 368.80,647.10 402.40,647.10 405.80,648.90 410.10,652.80 414.90,657.10 418.80,659.20" fill="none" stroke="#1e1e1e" stroke-width="1.0" stroke-linejoin="round"/>
<line x1="312.60" y1="470.50" x2="515.00" y2="470.50" stroke="#3a3a3a" stroke-width="1.15"/>
<line x1="514.50" y1="470.50" x2="514.50" y2="659.20" stroke="#3a3a3a" stroke-width="1.15"/>
<line x1="312.60" y1="659.20" x2="515.00" y2="659.20" stroke="#222" stroke-width="1.3"/>
<line x1="312.60" y1="470.50" x2="312.60" y2="659.20" stroke="#555" stroke-width="1.0"/>
<line x1="314.50" y1="567.00" x2="314.50" y2="659.20" stroke="#777" stroke-width="0.8"/>
<line x1="312.90" y1="567.00" x2="312.90" y2="628.00" stroke="#202020" stroke-width="1.2"/>
<line x1="311.00" y1="659.20" x2="312.60" y2="659.20" stroke="#333" stroke-width="0.9"/>
<line x1="311.00" y1="627.75" x2="312.60" y2="627.75" stroke="#333" stroke-width="0.9"/>
<line x1="311.00" y1="596.30" x2="312.60" y2="596.30" stroke="#333" stroke-width="0.9"/>
<line x1="311.00" y1="564.85" x2="312.60" y2="564.85" stroke="#333" stroke-width="0.9"/>
<line x1="311.00" y1="533.40" x2="312.60" y2="533.40" stroke="#333" stroke-width="0.9"/>
<line x1="311.00" y1="501.95" x2="312.60" y2="501.95" stroke="#333" stroke-width="0.9"/>
<line x1="311.00" y1="470.50" x2="312.60" y2="470.50" stroke="#333" stroke-width="0.9"/>
<line x1="312.60" y1="659.20" x2="312.60" y2="660.60" stroke="#333" stroke-width="0.9"/>
<line x1="337.84" y1="659.20" x2="337.84" y2="660.60" stroke="#333" stroke-width="0.9"/>
<line x1="363.08" y1="659.20" x2="363.08" y2="660.60" stroke="#333" stroke-width="0.9"/>
<line x1="388.31" y1="659.20" x2="388.31" y2="660.60" stroke="#333" stroke-width="0.9"/>
<line x1="413.55" y1="659.20" x2="413.55" y2="660.60" stroke="#333" stroke-width="0.9"/>
<line x1="438.79" y1="659.20" x2="438.79" y2="660.60" stroke="#333" stroke-width="0.9"/>
<line x1="464.02" y1="659.20" x2="464.02" y2="660.60" stroke="#333" stroke-width="0.9"/>
<line x1="489.26" y1="659.20" x2="489.26" y2="660.60" stroke="#333" stroke-width="0.9"/>
<line x1="514.50" y1="659.20" x2="514.50" y2="660.60" stroke="#333" stroke-width="0.9"/>
<polyline points="314.50,659.00 333.00,659.00 335.00,657.20 354.40,657.10 356.80,655.60 357.80,648.90 358.50,634.50 359.20,615.20 359.70,596.00 359.80,575.70 360.80,539.00 361.60,508.40 362.50,497.60 363.70,504.70 364.90,526.70 365.90,551.20 367.10,575.70 367.40,596.00 368.40,610.40 369.30,622.90 370.80,632.50 372.20,638.30 374.10,643.10 376.50,644.10 378.90,644.60 380.90,646.50 388.00,646.80 395.70,646.50 396.80,644.60 398.10,646.50 400.50,645.10 402.90,643.20 403.90,640.30 405.80,637.90 407.70,634.50 409.60,631.60 411.60,633.10 414.00,636.40 416.40,641.20 418.80,647.50 421.20,651.80 424.10,655.20 427.40,656.60 431.30,656.10 436.10,656.20 445.00,655.60 452.00,654.60 457.00,653.80 463.00,654.80 471.70,657.00 485.00,657.00 494.00,656.30 513.50,657.00" fill="none" stroke="#333" stroke-width="0.9" stroke-linejoin="round"/>
<text transform="translate(290.70,470.05) scale(1.45,1)" text-anchor="middle" class="n">2</text><text transform="translate(296.40,470.05) scale(1.45,1)" text-anchor="middle" class="n">4</text><text transform="translate(302.10,470.05) scale(1.45,1)" text-anchor="middle" class="n">0</text><text transform="translate(307.80,470.05) scale(1.45,1)" text-anchor="middle" class="n">0</text>
<text transform="translate(290.70,501.45) scale(1.45,1)" text-anchor="middle" class="n">2</text><text transform="translate(296.40,501.45) scale(1.45,1)" text-anchor="middle" class="n">0</text><text transform="translate(302.10,501.45) scale(1.45,1)" text-anchor="middle" class="n">0</text><text transform="translate(307.80,501.45) scale(1.45,1)" text-anchor="middle" class="n">0</text>
<text transform="translate(291.75,532.85) scale(1.45,1)" text-anchor="middle" class="n">1</text><text transform="translate(296.40,532.85) scale(1.45,1)" text-anchor="middle" class="n">6</text><text transform="translate(302.10,532.85) scale(1.45,1)" text-anchor="middle" class="n">0</text><text transform="translate(307.80,532.85) scale(1.45,1)" text-anchor="middle" class="n">0</text>
<text transform="translate(291.75,564.25) scale(1.45,1)" text-anchor="middle" class="n">1</text><text transform="translate(296.40,564.25) scale(1.45,1)" text-anchor="middle" class="n">2</text><text transform="translate(302.10,564.25) scale(1.45,1)" text-anchor="middle" class="n">0</text><text transform="translate(307.80,564.25) scale(1.45,1)" text-anchor="middle" class="n">0</text>
<text transform="translate(296.40,595.65) scale(1.45,1)" text-anchor="middle" class="n">8</text><text transform="translate(302.10,595.65) scale(1.45,1)" text-anchor="middle" class="n">0</text><text transform="translate(307.80,595.65) scale(1.45,1)" text-anchor="middle" class="n">0</text>
<text transform="translate(296.40,627.05) scale(1.45,1)" text-anchor="middle" class="n">4</text><text transform="translate(302.10,627.05) scale(1.45,1)" text-anchor="middle" class="n">0</text><text transform="translate(307.80,627.05) scale(1.45,1)" text-anchor="middle" class="n">0</text>
<text transform="translate(307.80,658.45) scale(1.45,1)" text-anchor="middle" class="n">0</text>
<text transform="translate(312.30,665.60) scale(1.45,1)" text-anchor="middle" class="n">0</text>
<text transform="translate(334.65,665.60) scale(1.45,1)" text-anchor="middle" class="n">3</text><text transform="translate(340.35,665.60) scale(1.45,1)" text-anchor="middle" class="n">2</text>
<text transform="translate(359.85,665.60) scale(1.45,1)" text-anchor="middle" class="n">6</text><text transform="translate(365.55,665.60) scale(1.45,1)" text-anchor="middle" class="n">4</text>
<text transform="translate(385.05,665.60) scale(1.45,1)" text-anchor="middle" class="n">9</text><text transform="translate(390.75,665.60) scale(1.45,1)" text-anchor="middle" class="n">6</text>
<text transform="translate(407.40,665.60) scale(1.45,1)" text-anchor="middle" class="n">1</text><text transform="translate(412.05,665.60) scale(1.45,1)" text-anchor="middle" class="n">2</text><text transform="translate(417.75,665.60) scale(1.45,1)" text-anchor="middle" class="n">8</text>
<text transform="translate(432.60,665.60) scale(1.45,1)" text-anchor="middle" class="n">1</text><text transform="translate(437.25,665.60) scale(1.45,1)" text-anchor="middle" class="n">6</text><text transform="translate(442.95,665.60) scale(1.45,1)" text-anchor="middle" class="n">0</text>
<text transform="translate(457.80,665.60) scale(1.45,1)" text-anchor="middle" class="n">1</text><text transform="translate(462.45,665.60) scale(1.45,1)" text-anchor="middle" class="n">9</text><text transform="translate(468.15,665.60) scale(1.45,1)" text-anchor="middle" class="n">2</text>
<text transform="translate(483.00,665.60) scale(1.45,1)" text-anchor="middle" class="n">2</text><text transform="translate(488.70,665.60) scale(1.45,1)" text-anchor="middle" class="n">2</text><text transform="translate(494.40,665.60) scale(1.45,1)" text-anchor="middle" class="n">4</text>
<text transform="translate(503.50,665.60) scale(1.45,1)" text-anchor="middle" class="n">2</text><text transform="translate(509.20,665.60) scale(1.45,1)" text-anchor="middle" class="n">5</text><text transform="translate(514.90,665.60) scale(1.45,1)" text-anchor="middle" class="n">6</text>
<polygon points="114.40,879.40 117.20,876.50 119.60,870.70 122.00,865.00 126.80,862.60 156.80,862.30 160.70,864.50 165.00,869.30 168.80,874.10 172.70,878.40 174.60,879.30" fill="url(#hG)" stroke="none"/>
<polyline points="114.40,879.40 117.20,876.50 119.60,870.70 122.00,865.00 126.80,862.60 156.80,862.30 160.70,864.50 165.00,869.30 168.80,874.10 172.70,878.40 174.60,879.30" fill="none" stroke="#1e1e1e" stroke-width="1.0" stroke-linejoin="round"/>
<line x1="67.70" y1="694.40" x2="270.90" y2="694.40" stroke="#3a3a3a" stroke-width="1.15"/>
<line x1="270.40" y1="694.40" x2="270.40" y2="879.30" stroke="#333" stroke-width="1.15"/>
<line x1="67.70" y1="879.30" x2="270.90" y2="879.30" stroke="#222" stroke-width="1.3"/>
<line x1="67.70" y1="694.40" x2="67.70" y2="879.30" stroke="#444" stroke-width="1.0"/>
<line x1="68.00" y1="830.00" x2="68.00" y2="879.30" stroke="#202020" stroke-width="1.8"/>
<line x1="66.10" y1="879.30" x2="67.70" y2="879.30" stroke="#333" stroke-width="0.9"/>
<line x1="66.10" y1="858.76" x2="67.70" y2="858.76" stroke="#333" stroke-width="0.9"/>
<line x1="66.10" y1="838.21" x2="67.70" y2="838.21" stroke="#333" stroke-width="0.9"/>
<line x1="66.10" y1="817.67" x2="67.70" y2="817.67" stroke="#333" stroke-width="0.9"/>
<line x1="66.10" y1="797.12" x2="67.70" y2="797.12" stroke="#333" stroke-width="0.9"/>
<line x1="66.10" y1="776.58" x2="67.70" y2="776.58" stroke="#333" stroke-width="0.9"/>
<line x1="66.10" y1="756.03" x2="67.70" y2="756.03" stroke="#333" stroke-width="0.9"/>
<line x1="66.10" y1="735.49" x2="67.70" y2="735.49" stroke="#333" stroke-width="0.9"/>
<line x1="66.10" y1="714.94" x2="67.70" y2="714.94" stroke="#333" stroke-width="0.9"/>
<line x1="66.10" y1="694.40" x2="67.70" y2="694.40" stroke="#333" stroke-width="0.9"/>
<line x1="67.70" y1="879.30" x2="67.70" y2="880.70" stroke="#333" stroke-width="0.9"/>
<line x1="93.04" y1="879.30" x2="93.04" y2="880.70" stroke="#333" stroke-width="0.9"/>
<line x1="118.38" y1="879.30" x2="118.38" y2="880.70" stroke="#333" stroke-width="0.9"/>
<line x1="143.71" y1="879.30" x2="143.71" y2="880.70" stroke="#333" stroke-width="0.9"/>
<line x1="169.05" y1="879.30" x2="169.05" y2="880.70" stroke="#333" stroke-width="0.9"/>
<line x1="194.39" y1="879.30" x2="194.39" y2="880.70" stroke="#333" stroke-width="0.9"/>
<line x1="219.72" y1="879.30" x2="219.72" y2="880.70" stroke="#333" stroke-width="0.9"/>
<line x1="245.06" y1="879.30" x2="245.06" y2="880.70" stroke="#333" stroke-width="0.9"/>
<line x1="270.40" y1="879.30" x2="270.40" y2="880.70" stroke="#333" stroke-width="0.9"/>
<polyline points="68.50,879.50 87.00,879.50 87.90,876.10 90.50,873.90 93.20,874.80 97.60,874.30 102.00,874.80 103.80,874.10 107.70,873.60 109.60,871.70 111.50,865.90 112.50,853.50 113.40,834.30 114.20,815.20 114.40,783.50 115.90,758.20 117.40,728.10 118.60,704.00 119.80,695.00 121.00,704.00 121.60,728.10 122.60,758.20 123.40,776.20 124.00,810.40 125.10,824.70 125.90,839.10 126.80,847.70 128.70,851.60 131.60,856.30 134.50,859.20 137.40,859.20 140.20,862.60 144.10,862.10 149.60,861.80 152.50,860.10 154.40,859.70 156.30,855.80 157.80,852.00 159.20,848.60 160.70,845.20 161.60,840.40 163.10,838.00 165.00,838.50 166.20,835.10 167.40,838.50 168.80,842.30 170.30,849.10 172.20,854.80 174.10,862.50 176.10,868.30 178.50,873.10 181.30,875.50 185.20,875.50 200.00,875.30 208.00,874.60 215.00,875.50 222.00,877.60 269.50,878.20" fill="none" stroke="#333" stroke-width="0.9" stroke-linejoin="round"/>
<text transform="translate(46.45,693.75) scale(1.45,1)" text-anchor="middle" class="n">1</text><text transform="translate(51.10,693.75) scale(1.45,1)" text-anchor="middle" class="n">8</text><text transform="translate(56.80,693.75) scale(1.45,1)" text-anchor="middle" class="n">0</text><text transform="translate(62.50,693.75) scale(1.45,1)" text-anchor="middle" class="n">0</text>
<text transform="translate(46.45,714.43) scale(1.45,1)" text-anchor="middle" class="n">1</text><text transform="translate(51.10,714.43) scale(1.45,1)" text-anchor="middle" class="n">6</text><text transform="translate(56.80,714.43) scale(1.45,1)" text-anchor="middle" class="n">0</text><text transform="translate(62.50,714.43) scale(1.45,1)" text-anchor="middle" class="n">0</text>
<text transform="translate(46.45,735.11) scale(1.45,1)" text-anchor="middle" class="n">1</text><text transform="translate(51.10,735.11) scale(1.45,1)" text-anchor="middle" class="n">4</text><text transform="translate(56.80,735.11) scale(1.45,1)" text-anchor="middle" class="n">0</text><text transform="translate(62.50,735.11) scale(1.45,1)" text-anchor="middle" class="n">0</text>
<text transform="translate(46.45,755.79) scale(1.45,1)" text-anchor="middle" class="n">1</text><text transform="translate(51.10,755.79) scale(1.45,1)" text-anchor="middle" class="n">2</text><text transform="translate(56.80,755.79) scale(1.45,1)" text-anchor="middle" class="n">0</text><text transform="translate(62.50,755.79) scale(1.45,1)" text-anchor="middle" class="n">0</text>
<text transform="translate(46.45,776.47) scale(1.45,1)" text-anchor="middle" class="n">1</text><text transform="translate(51.10,776.47) scale(1.45,1)" text-anchor="middle" class="n">0</text><text transform="translate(56.80,776.47) scale(1.45,1)" text-anchor="middle" class="n">0</text><text transform="translate(62.50,776.47) scale(1.45,1)" text-anchor="middle" class="n">0</text>
<text transform="translate(51.10,797.15) scale(1.45,1)" text-anchor="middle" class="n">8</text><text transform="translate(56.80,797.15) scale(1.45,1)" text-anchor="middle" class="n">0</text><text transform="translate(62.50,797.15) scale(1.45,1)" text-anchor="middle" class="n">0</text>
<text transform="translate(51.10,817.83) scale(1.45,1)" text-anchor="middle" class="n">6</text><text transform="translate(56.80,817.83) scale(1.45,1)" text-anchor="middle" class="n">0</text><text transform="translate(62.50,817.83) scale(1.45,1)" text-anchor="middle" class="n">0</text>
<text transform="translate(51.10,838.51) scale(1.45,1)" text-anchor="middle" class="n">4</text><text transform="translate(56.80,838.51) scale(1.45,1)" text-anchor="middle" class="n">0</text><text transform="translate(62.50,838.51) scale(1.45,1)" text-anchor="middle" class="n">0</text>
<text transform="translate(51.10,859.19) scale(1.45,1)" text-anchor="middle" class="n">2</text><text transform="translate(56.80,859.19) scale(1.45,1)" text-anchor="middle" class="n">0</text><text transform="translate(62.50,859.19) scale(1.45,1)" text-anchor="middle" class="n">0</text>
<text transform="translate(62.50,879.87) scale(1.45,1)" text-anchor="middle" class="n">0</text>
<text transform="translate(66.40,886.00) scale(1.45,1)" text-anchor="middle" class="n">0</text>
<text transform="translate(88.82,886.00) scale(1.45,1)" text-anchor="middle" class="n">3</text><text transform="translate(94.52,886.00) scale(1.45,1)" text-anchor="middle" class="n">2</text>
<text transform="translate(114.09,886.00) scale(1.45,1)" text-anchor="middle" class="n">6</text><text transform="translate(119.79,886.00) scale(1.45,1)" text-anchor="middle" class="n">4</text>
<text transform="translate(139.36,886.00) scale(1.45,1)" text-anchor="middle" class="n">9</text><text transform="translate(145.06,886.00) scale(1.45,1)" text-anchor="middle" class="n">6</text>
<text transform="translate(161.78,886.00) scale(1.45,1)" text-anchor="middle" class="n">1</text><text transform="translate(166.43,886.00) scale(1.45,1)" text-anchor="middle" class="n">2</text><text transform="translate(172.13,886.00) scale(1.45,1)" text-anchor="middle" class="n">8</text>
<text transform="translate(187.05,886.00) scale(1.45,1)" text-anchor="middle" class="n">1</text><text transform="translate(191.70,886.00) scale(1.45,1)" text-anchor="middle" class="n">6</text><text transform="translate(197.40,886.00) scale(1.45,1)" text-anchor="middle" class="n">0</text>
<text transform="translate(212.32,886.00) scale(1.45,1)" text-anchor="middle" class="n">1</text><text transform="translate(216.97,886.00) scale(1.45,1)" text-anchor="middle" class="n">9</text><text transform="translate(222.67,886.00) scale(1.45,1)" text-anchor="middle" class="n">2</text>
<text transform="translate(237.59,886.00) scale(1.45,1)" text-anchor="middle" class="n">2</text><text transform="translate(243.29,886.00) scale(1.45,1)" text-anchor="middle" class="n">2</text><text transform="translate(248.99,886.00) scale(1.45,1)" text-anchor="middle" class="n">4</text>
<text transform="translate(259.20,886.00) scale(1.45,1)" text-anchor="middle" class="n">2</text><text transform="translate(264.90,886.00) scale(1.45,1)" text-anchor="middle" class="n">5</text><text transform="translate(270.60,886.00) scale(1.45,1)" text-anchor="middle" class="n">6</text>
<polygon points="358.80,878.90 360.60,877.20 363.10,874.50 364.90,871.40 366.80,868.60 369.80,867.40 404.80,866.90 410.10,869.00 414.30,872.20 418.60,875.90 422.80,878.00 426.00,878.90" fill="url(#hH)" stroke="none"/>
<polyline points="358.80,878.90 360.60,877.20 363.10,874.50 364.90,871.40 366.80,868.60 369.80,867.40 404.80,866.90 410.10,869.00 414.30,872.20 418.60,875.90 422.80,878.00 426.00,878.90" fill="none" stroke="#1e1e1e" stroke-width="1.0" stroke-linejoin="round"/>
<line x1="312.50" y1="694.00" x2="516.00" y2="694.00" stroke="#3a3a3a" stroke-width="1.15"/>
<line x1="515.50" y1="694.00" x2="515.50" y2="879.00" stroke="#333" stroke-width="1.15"/>
<line x1="312.50" y1="879.00" x2="516.00" y2="879.00" stroke="#222" stroke-width="1.3"/>
<line x1="312.50" y1="694.00" x2="312.50" y2="879.00" stroke="#444" stroke-width="1.0"/>
<line x1="312.80" y1="828.00" x2="312.80" y2="879.00" stroke="#202020" stroke-width="1.8"/>
<line x1="310.90" y1="879.00" x2="312.50" y2="879.00" stroke="#333" stroke-width="0.9"/>
<line x1="310.90" y1="858.44" x2="312.50" y2="858.44" stroke="#333" stroke-width="0.9"/>
<line x1="310.90" y1="837.89" x2="312.50" y2="837.89" stroke="#333" stroke-width="0.9"/>
<line x1="310.90" y1="817.33" x2="312.50" y2="817.33" stroke="#333" stroke-width="0.9"/>
<line x1="310.90" y1="796.78" x2="312.50" y2="796.78" stroke="#333" stroke-width="0.9"/>
<line x1="310.90" y1="776.22" x2="312.50" y2="776.22" stroke="#333" stroke-width="0.9"/>
<line x1="310.90" y1="755.67" x2="312.50" y2="755.67" stroke="#333" stroke-width="0.9"/>
<line x1="310.90" y1="735.11" x2="312.50" y2="735.11" stroke="#333" stroke-width="0.9"/>
<line x1="310.90" y1="714.56" x2="312.50" y2="714.56" stroke="#333" stroke-width="0.9"/>
<line x1="310.90" y1="694.00" x2="312.50" y2="694.00" stroke="#333" stroke-width="0.9"/>
<line x1="312.50" y1="879.00" x2="312.50" y2="880.40" stroke="#333" stroke-width="0.9"/>
<line x1="337.88" y1="879.00" x2="337.88" y2="880.40" stroke="#333" stroke-width="0.9"/>
<line x1="363.25" y1="879.00" x2="363.25" y2="880.40" stroke="#333" stroke-width="0.9"/>
<line x1="388.62" y1="879.00" x2="388.62" y2="880.40" stroke="#333" stroke-width="0.9"/>
<line x1="414.00" y1="879.00" x2="414.00" y2="880.40" stroke="#333" stroke-width="0.9"/>
<line x1="439.38" y1="879.00" x2="439.38" y2="880.40" stroke="#333" stroke-width="0.9"/>
<line x1="464.75" y1="879.00" x2="464.75" y2="880.40" stroke="#333" stroke-width="0.9"/>
<line x1="490.12" y1="879.00" x2="490.12" y2="880.40" stroke="#333" stroke-width="0.9"/>
<line x1="515.50" y1="879.00" x2="515.50" y2="880.40" stroke="#333" stroke-width="0.9"/>
<polyline points="313.00,879.20 332.00,879.20 333.50,873.90 336.80,872.40 340.70,872.90 344.50,874.40 347.40,872.90 351.30,873.90 353.80,872.60 356.30,870.80 357.50,865.20 358.20,856.00 358.30,848.90 359.40,827.50 360.20,811.40 360.70,795.40 361.60,782.60 363.00,778.80 364.50,781.00 365.80,783.60 366.00,786.80 366.90,800.70 368.20,816.80 369.80,830.70 371.90,846.70 373.50,856.00 375.40,859.10 377.80,861.50 380.90,864.00 383.40,865.20 384.20,863.30 387.40,864.40 390.00,863.70 391.60,862.10 393.20,865.30 396.30,862.70 400.10,860.00 402.20,857.40 404.30,851.00 405.90,847.90 406.90,840.40 408.50,829.90 409.60,821.40 411.20,816.10 412.80,810.80 413.80,808.20 415.40,810.80 417.00,803.90 418.00,811.90 419.10,819.30 420.70,829.90 422.30,838.30 424.40,848.90 426.50,859.50 428.60,864.80 430.70,869.00 433.40,873.20 436.60,875.40 440.80,876.40 445.00,877.00 470.00,876.50 490.00,877.00 514.00,877.50" fill="none" stroke="#333" stroke-width="0.9" stroke-linejoin="round"/>
<text transform="translate(291.75,693.45) scale(1.45,1)" text-anchor="middle" class="n">1</text><text transform="translate(296.40,693.45) scale(1.45,1)" text-anchor="middle" class="n">8</text><text transform="translate(302.10,693.45) scale(1.45,1)" text-anchor="middle" class="n">0</text><text transform="translate(307.80,693.45) scale(1.45,1)" text-anchor="middle" class="n">0</text>
<text transform="translate(291.75,714.00) scale(1.45,1)" text-anchor="middle" class="n">1</text><text transform="translate(296.40,714.00) scale(1.45,1)" text-anchor="middle" class="n">6</text><text transform="translate(302.10,714.00) scale(1.45,1)" text-anchor="middle" class="n">0</text><text transform="translate(307.80,714.00) scale(1.45,1)" text-anchor="middle" class="n">0</text>
<text transform="translate(291.75,734.55) scale(1.45,1)" text-anchor="middle" class="n">1</text><text transform="translate(296.40,734.55) scale(1.45,1)" text-anchor="middle" class="n">4</text><text transform="translate(302.10,734.55) scale(1.45,1)" text-anchor="middle" class="n">0</text><text transform="translate(307.80,734.55) scale(1.45,1)" text-anchor="middle" class="n">0</text>
<text transform="translate(291.75,755.10) scale(1.45,1)" text-anchor="middle" class="n">1</text><text transform="translate(296.40,755.10) scale(1.45,1)" text-anchor="middle" class="n">2</text><text transform="translate(302.10,755.10) scale(1.45,1)" text-anchor="middle" class="n">0</text><text transform="translate(307.80,755.10) scale(1.45,1)" text-anchor="middle" class="n">0</text>
<text transform="translate(291.75,775.65) scale(1.45,1)" text-anchor="middle" class="n">1</text><text transform="translate(296.40,775.65) scale(1.45,1)" text-anchor="middle" class="n">0</text><text transform="translate(302.10,775.65) scale(1.45,1)" text-anchor="middle" class="n">0</text><text transform="translate(307.80,775.65) scale(1.45,1)" text-anchor="middle" class="n">0</text>
<text transform="translate(296.40,796.20) scale(1.45,1)" text-anchor="middle" class="n">8</text><text transform="translate(302.10,796.20) scale(1.45,1)" text-anchor="middle" class="n">0</text><text transform="translate(307.80,796.20) scale(1.45,1)" text-anchor="middle" class="n">0</text>
<text transform="translate(296.40,816.75) scale(1.45,1)" text-anchor="middle" class="n">6</text><text transform="translate(302.10,816.75) scale(1.45,1)" text-anchor="middle" class="n">0</text><text transform="translate(307.80,816.75) scale(1.45,1)" text-anchor="middle" class="n">0</text>
<text transform="translate(296.40,837.30) scale(1.45,1)" text-anchor="middle" class="n">4</text><text transform="translate(302.10,837.30) scale(1.45,1)" text-anchor="middle" class="n">0</text><text transform="translate(307.80,837.30) scale(1.45,1)" text-anchor="middle" class="n">0</text>
<text transform="translate(296.40,857.85) scale(1.45,1)" text-anchor="middle" class="n">2</text><text transform="translate(302.10,857.85) scale(1.45,1)" text-anchor="middle" class="n">0</text><text transform="translate(307.80,857.85) scale(1.45,1)" text-anchor="middle" class="n">0</text>
<text transform="translate(307.80,878.40) scale(1.45,1)" text-anchor="middle" class="n">0</text>
<text transform="translate(311.70,885.20) scale(1.45,1)" text-anchor="middle" class="n">0</text>
<text transform="translate(334.24,885.20) scale(1.45,1)" text-anchor="middle" class="n">3</text><text transform="translate(339.94,885.20) scale(1.45,1)" text-anchor="middle" class="n">2</text>
<text transform="translate(359.63,885.20) scale(1.45,1)" text-anchor="middle" class="n">6</text><text transform="translate(365.33,885.20) scale(1.45,1)" text-anchor="middle" class="n">4</text>
<text transform="translate(385.02,885.20) scale(1.45,1)" text-anchor="middle" class="n">9</text><text transform="translate(390.72,885.20) scale(1.45,1)" text-anchor="middle" class="n">6</text>
<text transform="translate(407.56,885.20) scale(1.45,1)" text-anchor="middle" class="n">1</text><text transform="translate(412.21,885.20) scale(1.45,1)" text-anchor="middle" class="n">2</text><text transform="translate(417.91,885.20) scale(1.45,1)" text-anchor="middle" class="n">8</text>
<text transform="translate(432.95,885.20) scale(1.45,1)" text-anchor="middle" class="n">1</text><text transform="translate(437.60,885.20) scale(1.45,1)" text-anchor="middle" class="n">6</text><text transform="translate(443.30,885.20) scale(1.45,1)" text-anchor="middle" class="n">0</text>
<text transform="translate(458.34,885.20) scale(1.45,1)" text-anchor="middle" class="n">1</text><text transform="translate(462.99,885.20) scale(1.45,1)" text-anchor="middle" class="n">9</text><text transform="translate(468.69,885.20) scale(1.45,1)" text-anchor="middle" class="n">2</text>
<text transform="translate(483.73,885.20) scale(1.45,1)" text-anchor="middle" class="n">2</text><text transform="translate(489.43,885.20) scale(1.45,1)" text-anchor="middle" class="n">2</text><text transform="translate(495.13,885.20) scale(1.45,1)" text-anchor="middle" class="n">4</text>
<text transform="translate(504.50,885.20) scale(1.45,1)" text-anchor="middle" class="n">2</text><text transform="translate(510.20,885.20) scale(1.45,1)" text-anchor="middle" class="n">5</text><text transform="translate(515.90,885.20) scale(1.45,1)" text-anchor="middle" class="n">6</text>
</svg></body></html>
